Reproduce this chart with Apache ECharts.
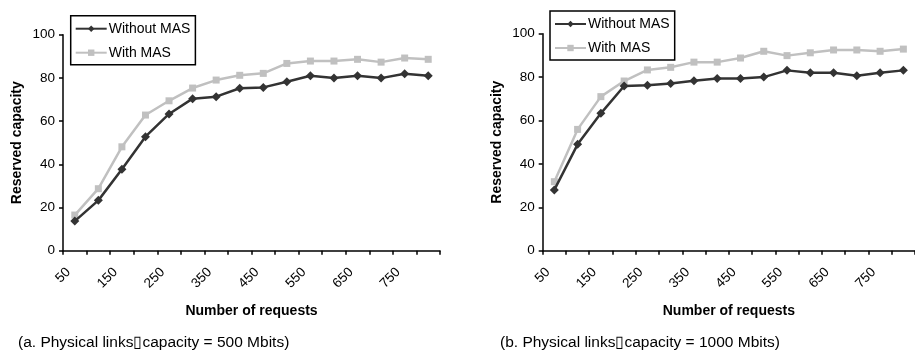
<!DOCTYPE html>
<html>
<head>
<meta charset="utf-8">
<script src="https://cdn.jsdelivr.net/npm/echarts@6/dist/echarts.min.js"></script>
<style>
  html, body { margin: 0; padding: 0; background: #fff; }
  #chart { width: 915px; height: 352px; }
</style>
</head>
<body>
<div id="chart"></div>
<script>
// Number of requests (category axis, every other one labelled)
const requests = ['50', '100', '150', '200', '250', '300', '350', '400',
                  '450', '500', '550', '600', '650', '700', '750', '800'];

// (a) physical link capacity = 500 Mbits
const withoutMasA = [13.7, 23.3, 37.7, 52.8, 63.3, 70.4, 71.3, 75.2,
                     75.6, 78.2, 81.0, 79.9, 81.0, 79.9, 81.9, 81.0];
const withMasA    = [16.5, 28.7, 48.1, 62.8, 69.4, 75.3, 79.0, 81.2,
                     82.1, 86.7, 87.8, 87.8, 88.6, 87.3, 89.2, 88.6];

// (b) physical link capacity = 1000 Mbits
const withoutMasB = [28.0, 49.0, 63.3, 75.9, 76.3, 77.0, 78.3, 79.4,
                     79.4, 80.0, 83.1, 82.0, 82.0, 80.6, 82.0, 83.1];
const withMasB    = [31.8, 55.9, 71.0, 78.2, 83.3, 84.5, 86.9, 86.9,
                     88.8, 91.9, 89.9, 91.2, 92.5, 92.5, 91.9, 92.9];

const seriesNames = ['Without MAS', 'With MAS'];
const captions = ['(a. Physical links\u25AFcapacity = 500 Mbits)',
                  '(b. Physical links\u25AFcapacity = 1000 Mbits)'];

const FONT = '"Liberation Sans", Arial, sans-serif';
const DARK = '#333333';
const LIGHT = '#c0c0c0';

function xAxisFor(gridIndex) {
  return {
    type: 'category',
    gridIndex: gridIndex,
    data: requests,
    boundaryGap: true,
    name: 'Number of requests',
    nameLocation: 'middle',
    nameGap: 53,
    nameTextStyle: { fontFamily: FONT, fontSize: 14, fontWeight: 'bold', color: '#000' },
    axisLine: { lineStyle: { color: '#000', width: 1.5 } },
    axisTick: { show: true, interval: 0, length: 4, inside: false, lineStyle: { color: '#000', width: 1.5 } },
    axisLabel: { interval: 1, rotate: 45, margin: 13, padding: [0, 9, 0, 0],
                 fontFamily: FONT, fontSize: 13.5, color: '#000' },
    splitLine: { show: false }
  };
}

function yAxisFor(gridIndex) {
  return {
    type: 'value',
    gridIndex: gridIndex,
    min: 0, max: 100, interval: 20,
    name: 'Reserved capacity',
    nameLocation: 'middle',
    nameGap: 39,
    nameTextStyle: { fontFamily: FONT, fontSize: 14, fontWeight: 'bold', color: '#000' },
    axisLine: { show: true, lineStyle: { color: '#000', width: 1.5 } },
    axisTick: { show: true, length: 4, lineStyle: { color: '#000', width: 1.5 } },
    axisLabel: { margin: 8, fontFamily: FONT, fontSize: 13.5, color: '#000' },
    splitLine: { show: false }
  };
}

function lineSeries(name, data, idx, dark) {
  return {
    name: name,
    type: 'line',
    xAxisIndex: idx,
    yAxisIndex: idx,
    data: data,
    symbol: dark ? 'diamond' : 'rect',
    symbolSize: dark ? 9 : 7,
    showAllSymbol: true,
    itemStyle: { color: dark ? DARK : LIGHT },
    lineStyle: { color: dark ? DARK : LIGHT, width: 2.5 },
    z: dark ? 3 : 2,
    animation: false
  };
}

function legendFor(left, top) {
  return {
    orient: 'vertical',
    left: left, top: top,
    data: seriesNames,
    backgroundColor: '#fff',
    borderColor: '#000',
    borderWidth: 1.5,
    borderRadius: 0,
    padding: [6, 5, 5, 4],
    itemGap: 10,
    itemWidth: 31,
    itemHeight: 8,
    selectedMode: false,
    textStyle: { fontFamily: FONT, fontSize: 14, color: '#000', padding: [0, 0, 0, -3] }
  };
}

const chart = echarts.init(document.getElementById('chart'), null, { renderer: 'canvas' });

chart.setOption({
  backgroundColor: '#fff',
  animation: false,
  grid: [
    { left: 63, right: 475, top: 34.7, bottom: 101.3, containLabel: false },
    { left: 542.7, right: -6.7, top: 33.7, bottom: 101.3, containLabel: false }
  ],
  xAxis: [xAxisFor(0), xAxisFor(1)],
  yAxis: [yAxisFor(0), yAxisFor(1)],
  legend: [legendFor(70.7, 15.7), legendFor(550, 11)],
  series: [
    lineSeries(seriesNames[0], withoutMasA, 0, true),
    lineSeries(seriesNames[1], withMasA, 0, false),
    lineSeries(seriesNames[0], withoutMasB, 1, true),
    lineSeries(seriesNames[1], withMasB, 1, false)
  ],
  graphic: [
    { type: 'text', left: 18, top: 335,
      style: { text: captions[0], font: '15.5px ' + FONT, fill: '#000' } },
    { type: 'text', left: 500, top: 335,
      style: { text: captions[1], font: '15.5px ' + FONT, fill: '#000' } }
  ]
});
</script>
</body>
</html>
